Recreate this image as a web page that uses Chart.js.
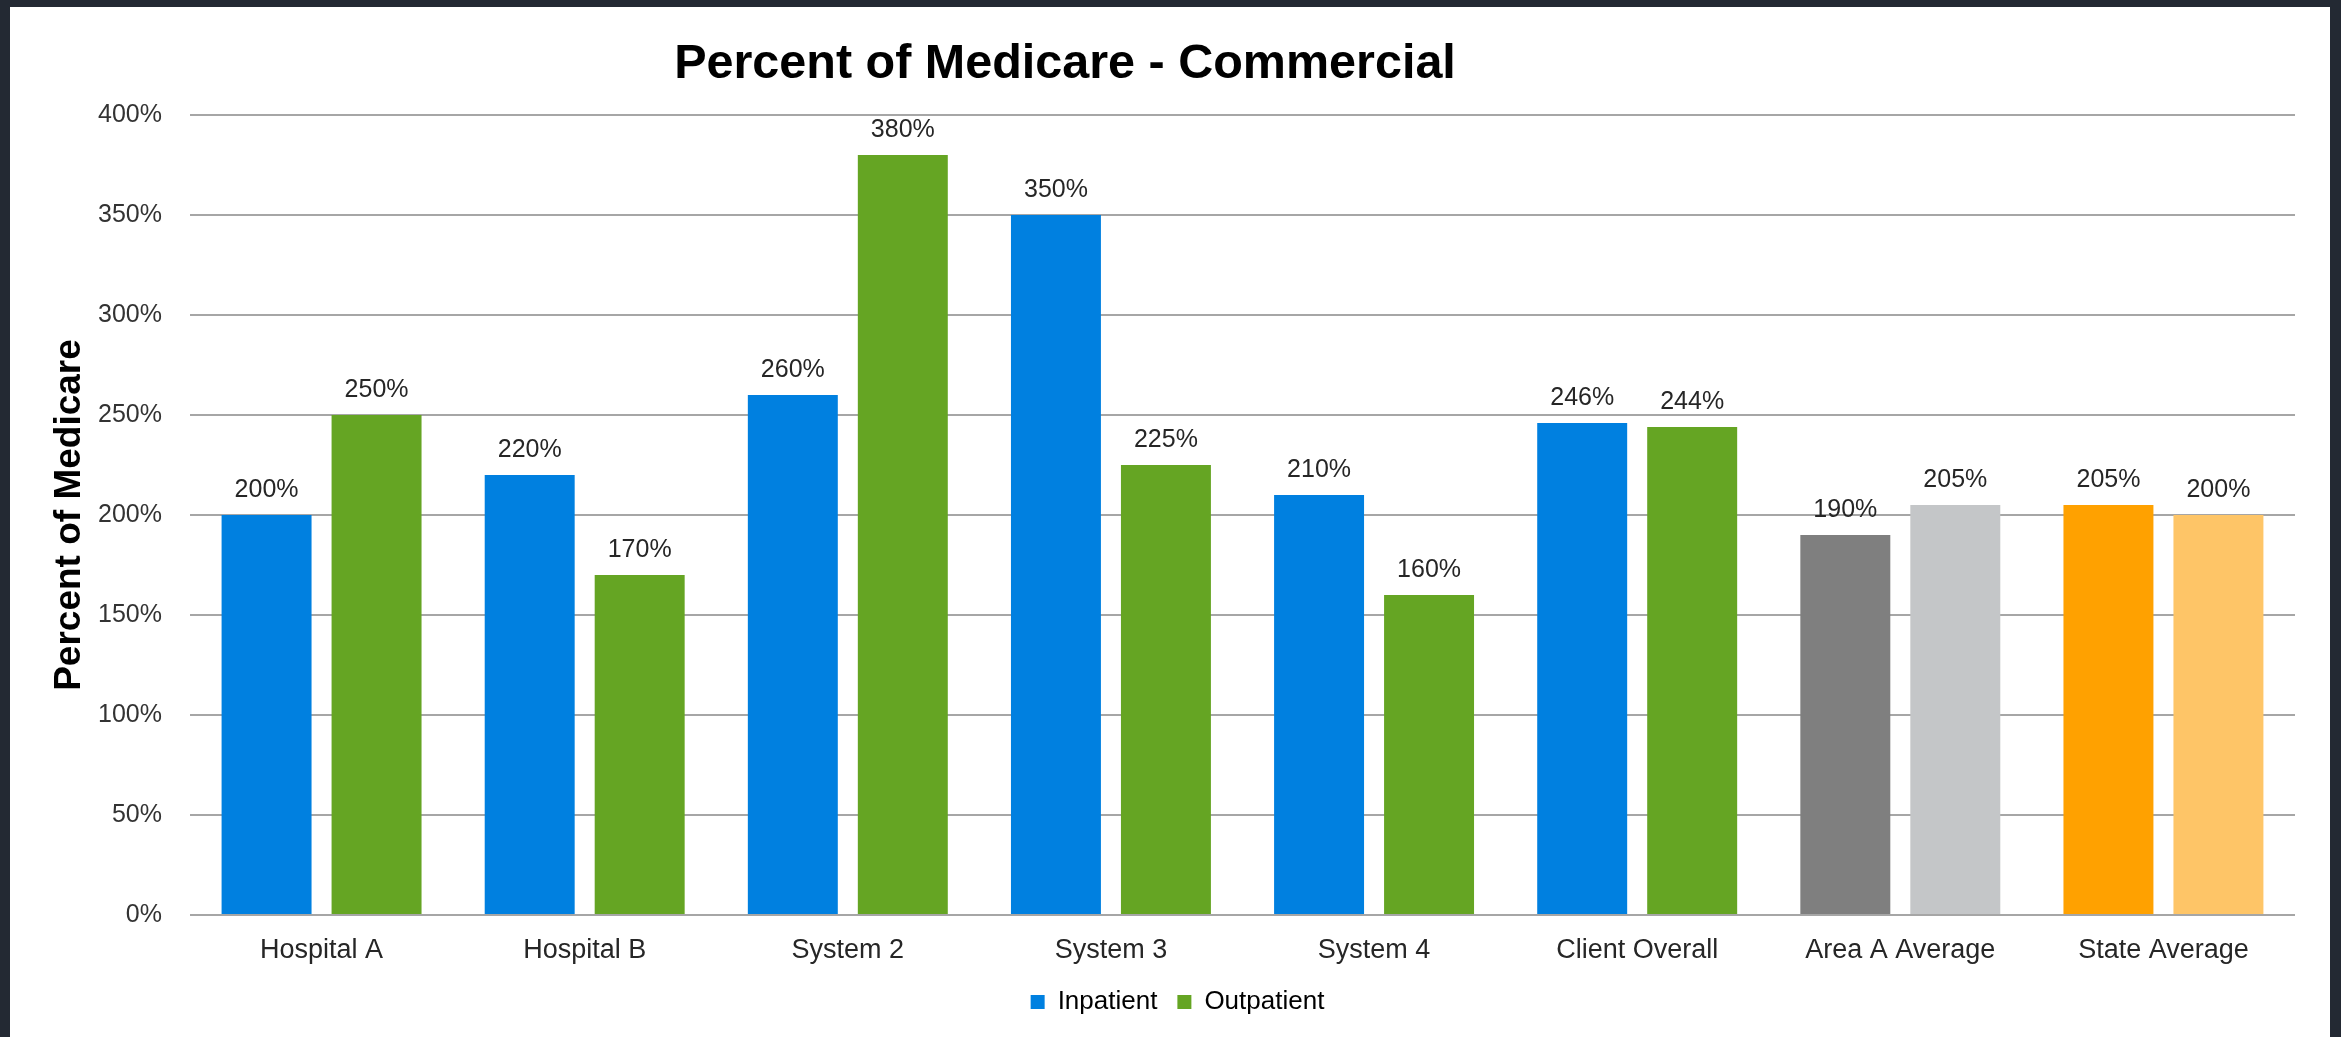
<!DOCTYPE html>
<html>
<head>
<meta charset="utf-8">
<script src="https://cdn.jsdelivr.net/npm/chart.js@4.4.0/dist/chart.umd.min.js"></script>
<style>
html,body{margin:0;padding:0;background:#232933;width:2341px;height:1037px;overflow:hidden}
#wrap{position:absolute;left:10px;top:7px;width:2320px;height:1030px;background:#ffffff}
canvas{display:block}
</style>
</head>
<body>
<div id="wrap"><canvas id="c" width="2320" height="1030"></canvas></div>
<script>
const chartTitle = 'Percent of Medicare - Commercial';
const yAxisTitle = 'Percent of Medicare';
const categories = ['Hospital A', 'Hospital B', 'System 2', 'System 3', 'System 4', 'Client Overall', 'Area A Average', 'State Average'];
const seriesNames = ['Inpatient', 'Outpatient'];
const inpatient = [200, 220, 260, 350, 210, 246, 190, 205];
const outpatient = [250, 170, 380, 225, 160, 244, 205, 200];
const inpatientColors = ['#0080e0', '#0080e0', '#0080e0', '#0080e0', '#0080e0', '#0080e0', '#7f7f7f', '#ffa100'];
const outpatientColors = ['#65a523', '#65a523', '#65a523', '#65a523', '#65a523', '#65a523', '#c4c6c8', '#fec567'];
const yMin = 0;
const yMax = 400;
const yStep = 50;

const FONT = '"Liberation Sans", Arial, sans-serif';

const valueLabels = {
  id: 'valueLabels',
  afterDatasetsDraw(chart) {
    const ctx = chart.ctx;
    ctx.save();
    ctx.font = '25px ' + FONT;
    ctx.fillStyle = '#262626';
    ctx.textAlign = 'center';
    ctx.textBaseline = 'alphabetic';
    chart.data.datasets.forEach((ds, i) => {
      chart.getDatasetMeta(i).data.forEach((bar, j) => {
        ctx.fillText(ds.data[j] + '%', bar.x, bar.y - 18);
      });
    });
    ctx.restore();
  }
};

const boxShift = {
  id: 'boxShift',
  afterLayout(chart) {
    const tb = chart.titleBlock;
    if (tb) { tb.left = 0; tb.right = 2110; tb.width = 2110; }
    const lg = chart.legend;
    if (lg) { lg.left += 25; lg.right += 25; }
  }
};

new Chart(document.getElementById('c'), {
  type: 'bar',
  data: {
    labels: categories,
    datasets: [
      { label: seriesNames[0], data: inpatient, backgroundColor: inpatientColors, borderWidth: 0,
        categoryPercentage: 0.836, barPercentage: 0.818 },
      { label: seriesNames[1], data: outpatient, backgroundColor: outpatientColors, borderWidth: 0,
        categoryPercentage: 0.836, barPercentage: 0.818 }
    ]
  },
  options: {
    responsive: false,
    animation: false,
    devicePixelRatio: 1,
    layout: { padding: { left: 0, right: 35, top: 0, bottom: 12 } },
    plugins: {
      title: {
        display: true,
        text: chartTitle,
        color: '#000000',
        font: { family: FONT, size: 48.5, weight: 'bold', lineHeight: 1.2 },
        padding: { top: 29, bottom: 20.8 }
      },
      legend: {
        display: true,
        position: 'bottom',
        labels: {
          color: '#262626',
          font: { family: FONT, size: 26 },
          boxWidth: 14,
          boxHeight: 14,
          padding: 20,
          generateLabels(chart) {
            return chart.data.datasets.map((ds, i) => ({
              text: ds.label,
              fillStyle: i === 0 ? inpatientColors[0] : outpatientColors[0],
              strokeStyle: 'rgba(0,0,0,0)',
              lineWidth: 0,
              hidden: false,
              datasetIndex: i
            }));
          }
        }
      },
      tooltip: { enabled: false }
    },
    scales: {
      x: {
        grid: { display: false },
        border: { display: false },
        ticks: { color: '#262626', font: { family: FONT, size: 27 }, padding: 11, maxRotation: 0 },
        afterFit(scale) { scale.height = 54; }
      },
      y: {
        min: yMin,
        max: yMax,
        ticks: {
          stepSize: yStep,
          color: '#333333',
          font: { family: FONT, size: 25 },
          padding: 28,
          callback: (v) => v + '%'
        },
        grid: { color: '#a6a6a6', lineWidth: 2, drawTicks: false },
        border: { display: false },
        title: {
          display: true,
          text: yAxisTitle,
          color: '#000000',
          font: { family: FONT, size: 37, weight: 'bold', lineHeight: 1.2 },
          padding: { top: 38, bottom: 0 }
        },
        afterFit(scale) { scale.width = 180; }
      }
    }
  },
  plugins: [valueLabels, boxShift]
});
</script>
</body>
</html>
